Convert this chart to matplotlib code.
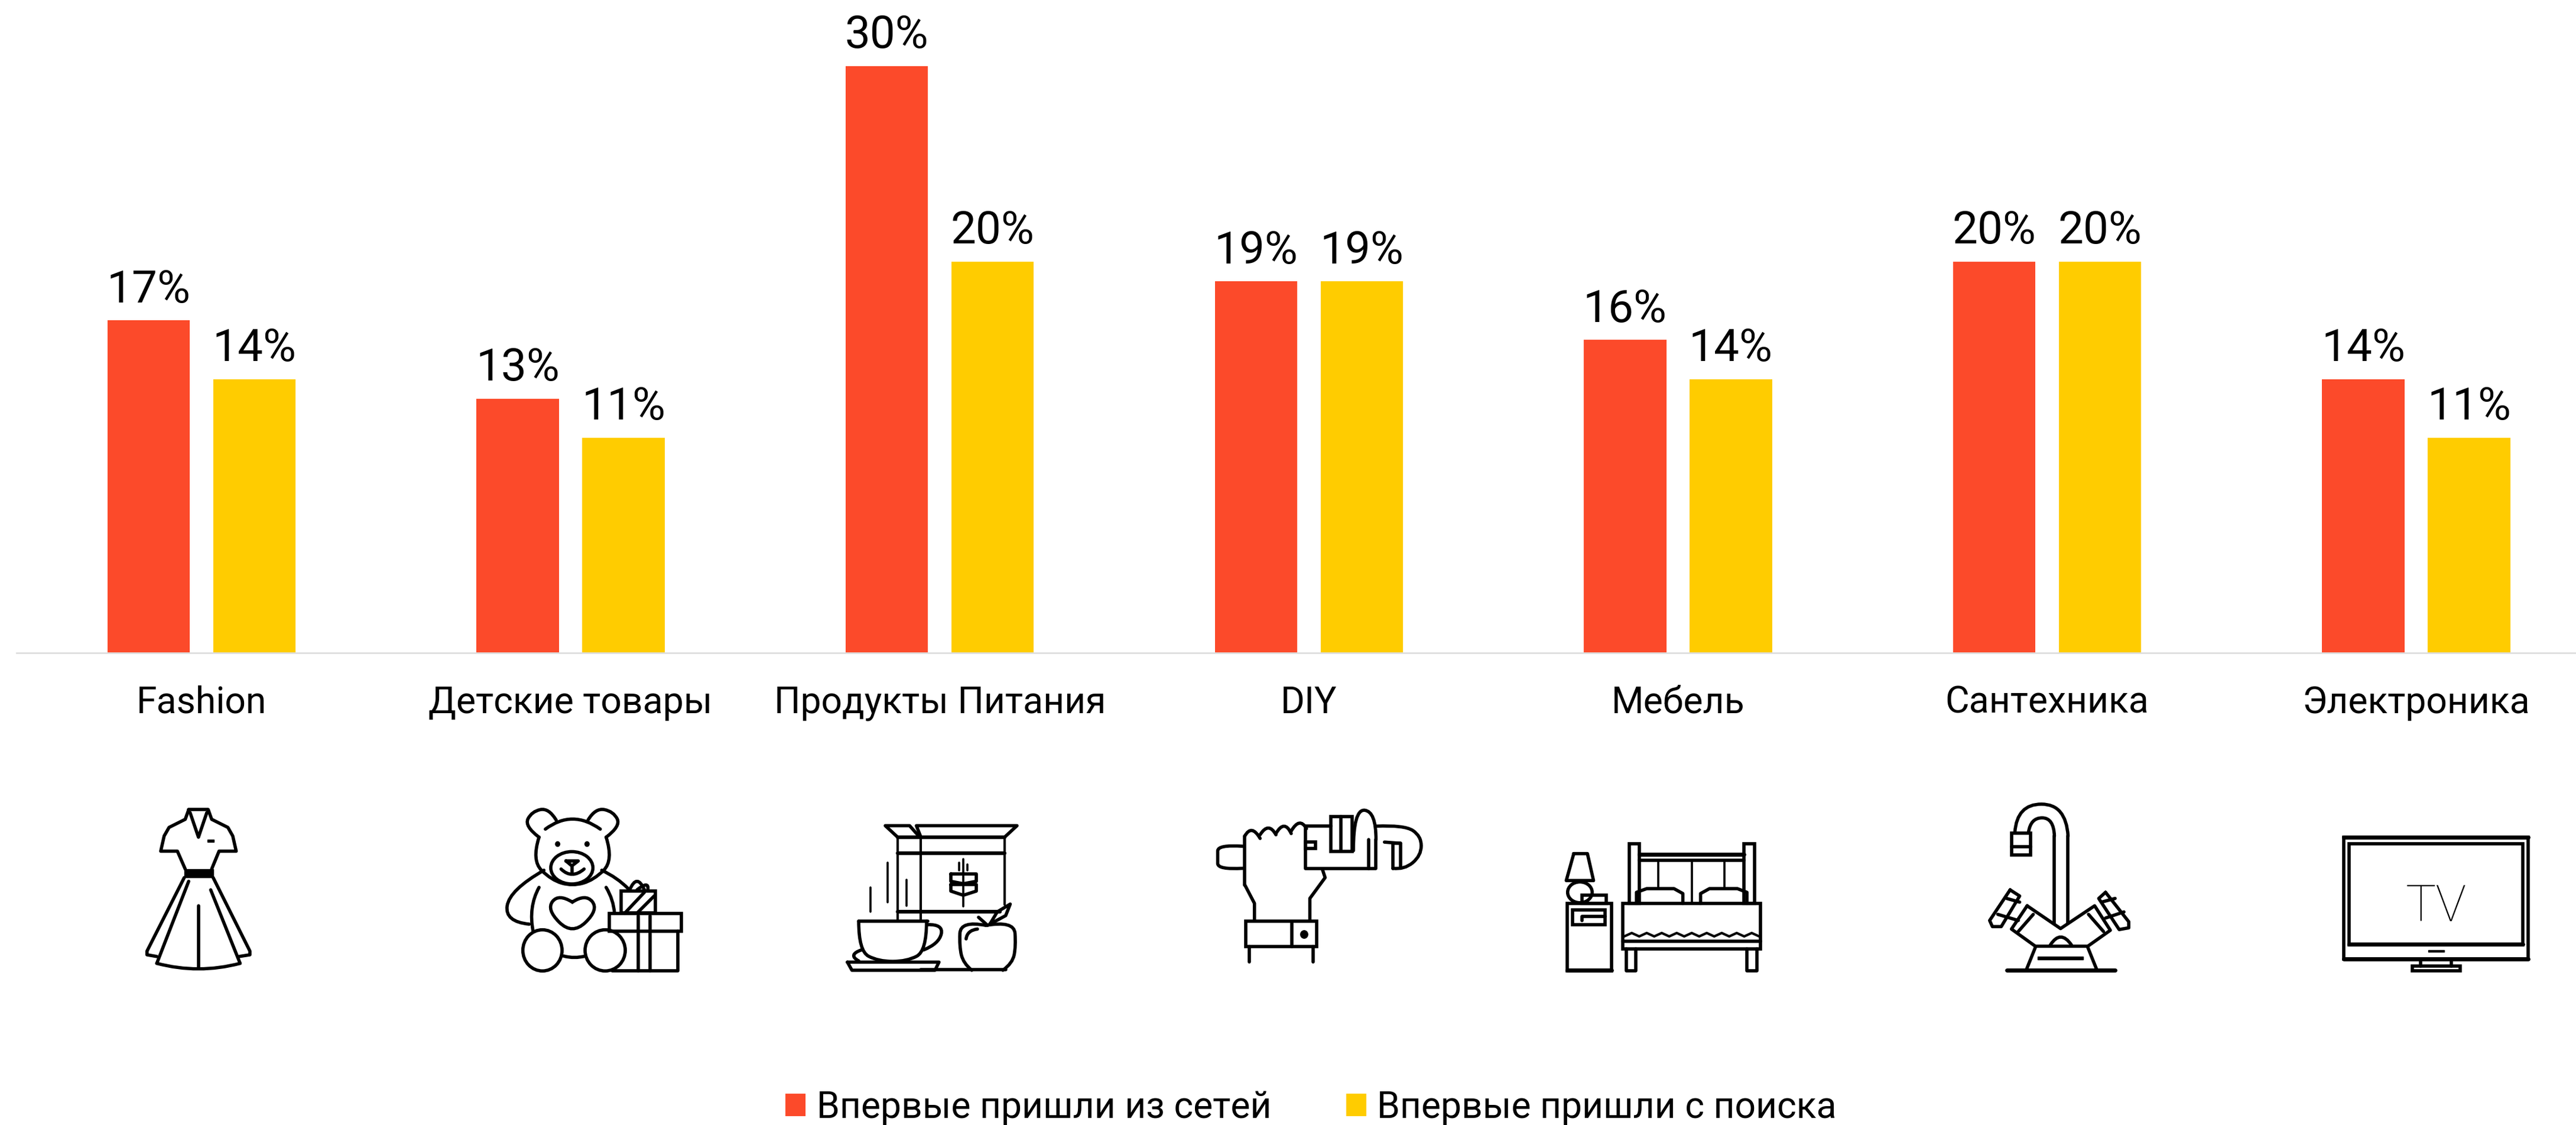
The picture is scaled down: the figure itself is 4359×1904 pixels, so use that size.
#!/usr/bin/env python3

# Grouped bars: first visits from social networks vs search, with a line icon under each category

import matplotlib
matplotlib.use("Agg")
import matplotlib.pyplot as plt
from matplotlib.path import Path
from matplotlib.patches import PathPatch, Ellipse, Rectangle

categories = ["Fashion", "Детские товары", "Продукты Питания", "DIY", "Мебель", "Сантехника", "Электроника"]
social_values = [17, 13, 30, 19, 16, 20, 14]
search_values = [14, 11, 20, 19, 14, 20, 11]
series_names = ["Впервые пришли из сетей", "Впервые пришли с поиска"]

RED = "#fc4a2a"
YELLOW = "#ffcc00"
FONT = "Roboto"
LW = 4

plt.rcParams['font.family'] = [FONT, 'DejaVu Sans']

W, H = 4359, 1904
fig = plt.figure(figsize=(W/100, H/100), dpi=100, facecolor="white")

# Chart area, baseline at y=1105 px, axis line starts at x=28 px
ax = fig.add_axes([28/W, 1 - 1105/H, 1 - 28/W, 1105/H])
group_px = 624.6
x_pos = list(range(len(categories)))
bar_w = 139.5/group_px
offset = 89.5/group_px

bars1 = ax.bar([x - offset for x in x_pos], social_values, bar_w, color=RED, label=series_names[0])
bars2 = ax.bar([x + offset for x in x_pos], search_values, bar_w, color=YELLOW, label=series_names[1])

for bars, vals in ((bars1, social_values), (bars2, search_values)):
    ax.bar_label(bars, labels=[f"{v}%" for v in vals], padding=10.5, fontsize=55, color="black")

ax.set_xlim(-(341 - 28)/group_px, (W - 341)/group_px)
ax.set_ylim(0, 1105/33.1)
ax.set_xticks(x_pos)
ax.set_xticklabels(categories, fontsize=45)
ax.tick_params(axis='x', length=0, pad=39.5)
ax.set_yticks([])
for side in ("top", "left", "right"):
    ax.spines[side].set_visible(False)
ax.spines["bottom"].set_color("#dedede")
ax.spines["bottom"].set_linewidth(2)
ax.patch.set_alpha(0)

fig.legend(handles=[bars1, bars2], labels=series_names, loc="lower left", bbox_to_anchor=(1326/W, -0.002), ncol=2,
           fontsize=45, frameon=False, handlelength=0.54, handleheight=0.56, handletextpad=0.3,
           columnspacing=2.03, borderaxespad=0, borderpad=0.05)

# Overlay in pixel coordinates for the pictograms
icons = fig.add_axes([0, 0, 1, 1])
icons.set_xlim(0, W)
icons.set_ylim(H, 0)
icons.axis("off")


def z1(x, y):
    return x/1.206, 1050 + y/2.412

def z2(x, y):
    return 1300 + x/1.0453, 1050 + y/2.412

def z3(x, y):
    return 2550 + x/0.8668, 1050 + y/2.412


def line(t, pts, lw=LW):
    verts = [t(*p) for p in pts]
    codes = [Path.MOVETO] + [Path.LINETO]*(len(verts) - 1)
    icons.add_patch(PathPatch(Path(verts, codes), fill=False, ec="black", lw=lw, joinstyle="round", capstyle="round"))


def curve(t, pts, lw=LW):
    # quadratic pieces, the inner points only pull the curve
    verts = [t(*pts[0])]
    codes = [Path.MOVETO]
    for i in range(1, len(pts) - 1):
        p = pts[i]
        q = pts[i + 1]
        end = q if i == len(pts) - 2 else ((p[0] + q[0])/2, (p[1] + q[1])/2)
        verts += [t(*p), t(*end)]
        codes += [Path.CURVE3, Path.CURVE3]
    if len(pts) == 2:
        verts.append(t(*pts[1]))
        codes.append(Path.LINETO)
    icons.add_patch(PathPatch(Path(verts, codes), fill=False, ec="black", lw=lw, joinstyle="round", capstyle="round"))


def rect(t, x0, y0, x1, y1, fill=False, lw=LW):
    a = t(x0, y0)
    b = t(x1, y1)
    icons.add_patch(Rectangle(a, b[0] - a[0], b[1] - a[1], fill=fill, fc="black", ec="black", lw=lw, joinstyle="miter"))


def oval(t, cx, cy, w, h, fill=False, lw=LW):
    c = t(cx, cy)
    sx = t(cx + w, cy)[0] - c[0]
    sy = t(cx, cy + h)[1] - c[1]
    icons.add_patch(Ellipse(c, sx, sy, fill=fill, fc="black", ec="black", lw=lw))


def draw_dress(t):
    line(t, [(385, 773), (425, 773)])
    line(t, [(385, 773), (378, 812), (345, 845), (335, 880), (328, 942), (362, 942), (378, 1015)])
    line(t, [(425, 773), (432, 812), (465, 845), (475, 880), (482, 942), (447, 942), (432, 1015)])
    line(t, [(388, 785), (405, 885), (422, 785)])
    rect(t, 423, 896, 436, 905, fill=True, lw=1)
    rect(t, 376, 1016, 435, 1050, fill=True, lw=1)
    line(t, [(376, 1050), (300, 1350), (300, 1365), (320, 1372)])
    line(t, [(435, 1050), (510, 1350), (510, 1365), (488, 1372)])
    line(t, [(385, 1065), (320, 1400)])
    line(t, [(430, 1100), (490, 1400)])
    curve(t, [(320, 1400), (405, 1445), (490, 1400)])
    line(t, [(405, 1165), (405, 1420)])


def draw_bear(t):
    curve(t, [(1135, 815), (1120, 765), (1085, 780), (1070, 840), (1100, 885)])
    curve(t, [(1200, 815), (1215, 765), (1252, 780), (1267, 840), (1237, 885)])
    curve(t, [(1113, 852), (1168, 770), (1225, 852)])
    curve(t, [(1100, 885), (1085, 980), (1125, 1060), (1168, 1085), (1212, 1060), (1252, 980), (1237, 885)])
    oval(t, 1138, 913, 9, 20, fill=True, lw=1)
    oval(t, 1198, 913, 9, 20, fill=True, lw=1)
    oval(t, 1167, 1010, 86, 132)
    line(t, [(1155, 982), (1180, 982), (1167, 1002), (1155, 982)])
    line(t, [(1167, 1002), (1167, 1032)])
    curve(t, [(1145, 1015), (1167, 1058), (1192, 1015)])
    curve(t, [(1110, 1020), (1040, 1100), (1030, 1230), (1080, 1240)])
    curve(t, [(1100, 1090), (1078, 1170), (1088, 1270)])
    curve(t, [(1228, 1020), (1260, 1050), (1282, 1095)])
    curve(t, [(1237, 1090), (1252, 1140), (1254, 1195)])
    curve(t, [(1168, 1150), (1140, 1115), (1115, 1180), (1168, 1285), (1222, 1180), (1195, 1115), (1168, 1150)])
    oval(t, 1107, 1347, 80, 168)
    oval(t, 1235, 1347, 82, 168)
    curve(t, [(1150, 1370), (1172, 1382), (1195, 1370)])
    rect(t, 1243, 1197, 1390, 1268)
    line(t, [(1383, 1268), (1383, 1430), (1250, 1430)])
    line(t, [(1302, 1205), (1302, 1430)])
    line(t, [(1327, 1205), (1327, 1430)])
    rect(t, 1268, 1105, 1337, 1195)
    line(t, [(1275, 1195), (1315, 1110)])
    line(t, [(1300, 1195), (1335, 1125)])
    curve(t, [(1285, 1100), (1300, 1030), (1315, 1100)])
    curve(t, [(1300, 1100), (1325, 1060), (1322, 1100)])


def draw_food(t):
    line(t, [(229, 1225), (229, 885), (418, 885), (418, 1160)], lw=3)
    line(t, [(229, 885), (418, 885)], lw=4.5)
    line(t, [(229, 950), (418, 950)], lw=4.5)
    line(t, [(229, 1190), (410, 1190)], lw=4.5)
    line(t, [(270, 885), (270, 1225)], lw=3)
    line(t, [(229, 885), (207, 838), (250, 838), (268, 885)])
    line(t, [(270, 885), (262, 838), (440, 838), (418, 885)])
    line(t, [(345, 975), (345, 1168)], lw=2.6)
    line(t, [(338, 990), (338, 1020)], lw=2.6)
    line(t, [(352, 995), (352, 1020)], lw=2.6)
    line(t, [(323, 1035), (323, 1065), (345, 1075), (368, 1065), (368, 1035), (323, 1035)])
    line(t, [(323, 1078), (323, 1105), (345, 1122), (368, 1105), (368, 1078), (323, 1078)])
    line(t, [(211, 990), (211, 1150)], lw=2.6)
    line(t, [(245, 1060), (245, 1165)], lw=2.6)
    line(t, [(181, 1090), (181, 1190)], lw=2.6)
    line(t, [(160, 1228), (282, 1228)])
    curve(t, [(160, 1228), (160, 1350), (195, 1392), (245, 1392), (280, 1350), (280, 1228)])
    curve(t, [(282, 1242), (310, 1240), (302, 1320), (275, 1345)])
    line(t, [(140, 1395), (302, 1395), (295, 1428), (148, 1428), (140, 1395)])
    curve(t, [(165, 1345), (140, 1365), (160, 1390)])
    curve(t, [(385, 1245), (340, 1225), (338, 1330), (345, 1400), (360, 1428)])
    curve(t, [(385, 1245), (435, 1225), (438, 1330), (432, 1400), (415, 1428)])
    line(t, [(270, 1425), (420, 1425)])
    line(t, [(392, 1240), (405, 1190), (428, 1158), (420, 1205), (392, 1240)])
    line(t, [(372, 1212), (388, 1245)])
    curve(t, [(350, 1300), (352, 1265), (370, 1260)])


def draw_wrench(t):
    curve(t, [(840, 922), (795, 915), (795, 967), (795, 1018), (840, 1012)])
    line(t, [(843, 1080), (843, 880)])
    curve(t, [(843, 880), (855, 830), (870, 890)])
    curve(t, [(870, 875), (885, 820), (898, 875)])
    curve(t, [(898, 870), (913, 810), (925, 870)])
    curve(t, [(925, 860), (940, 800), (952, 850)])
    line(t, [(950, 840), (995, 840)])
    line(t, [(980, 1015), (985, 1050), (958, 1135), (958, 1225)])
    line(t, [(843, 1080), (860, 1155), (860, 1225)])
    rect(t, 845, 1228, 970, 1332)
    line(t, [(926, 1232), (926, 1332)])
    oval(t, 948, 1282, 13, 32, fill=True, lw=1)
    line(t, [(851, 1332), (851, 1395)])
    line(t, [(964, 1332), (964, 1395)])
    line(t, [(950, 850), (950, 1012), (1075, 1012), (1075, 895)])
    curve(t, [(1035, 940), (1035, 770), (1075, 780), (1075, 895)])
    rect(t, 995, 800, 1033, 942)
    line(t, [(1013, 800), (1013, 940)])
    rect(t, 950, 905, 968, 930)
    curve(t, [(1075, 840), (1125, 835), (1155, 880), (1155, 960), (1125, 1018), (1105, 1012)])
    line(t, [(1105, 1012), (1105, 910), (1118, 910), (1118, 1005)])
    line(t, [(1090, 905), (1118, 910)])
    line(t, [(1062, 895), (1062, 1012)])


def draw_bed(t):
    rect(t, 88, 1155, 153, 1430)
    line(t, [(88, 1428), (153, 1428)], lw=5)
    rect(t, 96, 1182, 144, 1242)
    line(t, [(110, 1225), (110, 1208), (144, 1208)])
    line(t, [(98, 952), (118, 952), (127, 1062), (87, 1062), (98, 952)])
    oval(t, 107, 1110, 36, 85)
    rect(t, 110, 1122, 146, 1155)
    rect(t, 179, 912, 194, 1155)
    rect(t, 348, 912, 363, 1155)
    line(t, [(194, 955), (348, 955)], lw=5)
    line(t, [(194, 980), (348, 980)])
    line(t, [(222, 985), (222, 1095)], lw=2.6)
    line(t, [(271, 985), (271, 1155)], lw=2.6)
    line(t, [(319, 985), (319, 1095)], lw=2.6)
    line(t, [(190, 1155), (190, 1110), (205, 1095), (245, 1095), (258, 1115), (258, 1155)])
    line(t, [(284, 1155), (284, 1115), (297, 1095), (338, 1095), (352, 1110), (352, 1155)])
    rect(t, 170, 1155, 372, 1340)
    line(t, [(170, 1310), (372, 1310)])
    line(t, [(172 + 11*i, 1276 if i % 2 else 1290) for i in range(19)], lw=3)
    line(t, [(175, 1340), (175, 1430), (189, 1430), (189, 1340)])
    line(t, [(352, 1340), (352, 1430), (367, 1430), (367, 1340)])


def draw_faucet(t):
    curve(t, [(745, 865), (748, 750), (820, 750), (823, 880)])
    line(t, [(823, 880), (823, 1235)])
    curve(t, [(765, 865), (768, 806), (802, 806), (803, 880)])
    line(t, [(803, 880), (803, 1235)])
    rect(t, 740, 868, 768, 958)
    line(t, [(740, 925), (768, 925)])
    line(t, [(763, 1165), (812, 1258), (862, 1165), (885, 1265), (852, 1330), (775, 1330), (740, 1260), (763, 1165)])
    line(t, [(772, 1200), (750, 1270)])
    line(t, [(853, 1200), (875, 1270)])
    line(t, [(775, 1335), (762, 1425)])
    line(t, [(852, 1335), (865, 1425)])
    line(t, [(733, 1428), (892, 1428)], lw=5)
    rect(t, 778, 1373, 845, 1384, fill=True, lw=1)
    curve(t, [(797, 1325), (812, 1260), (828, 1325)])
    # the two valve handles
    line(t, [(738, 1100), (752, 1125), (725, 1250), (712, 1250), (708, 1225), (738, 1100)])
    line(t, [(733, 1135), (752, 1150)])
    line(t, [(720, 1200), (750, 1225)])
    line(t, [(878, 1110), (868, 1135), (898, 1262), (912, 1255), (912, 1230), (878, 1110)])
    line(t, [(872, 1150), (892, 1135)])
    line(t, [(878, 1215), (905, 1190)])


def draw_tv(t):
    rect(t, 1227, 885, 1498, 1383)
    line(t, [(1227, 885), (1498, 885)], lw=5)
    line(t, [(1227, 1381), (1498, 1381)], lw=5)
    rect(t, 1235, 912, 1490, 1323)
    line(t, [(1235, 1322), (1490, 1322)], lw=5)
    rect(t, 1351, 1346, 1375, 1354, fill=True, lw=1)
    line(t, [(1340, 1383), (1340, 1410)])
    line(t, [(1385, 1383), (1385, 1410)])
    rect(t, 1328, 1410, 1398, 1430)
    x, y = t(1363, 1228)
    icons.text(x, y, "TV", ha="center", va="baseline", fontsize=62, family="Roboto", weight="light", color="black")


draw_dress(z1)
draw_bear(z1)
draw_food(z2)
draw_wrench(z2)
draw_bed(z3)
draw_faucet(z3)
draw_tv(z3)

fig.savefig("out.png", dpi=100, facecolor="white")
